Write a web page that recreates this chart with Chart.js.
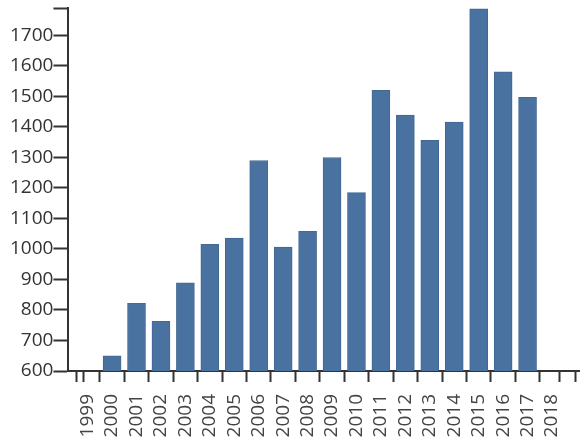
<!DOCTYPE html>
<html>
<head>
<meta charset="utf-8">
<script src="https://cdn.jsdelivr.net/npm/chart.js@4"></script>
<style>
  html, body { margin: 0; padding: 0; background: #fff; }
  #wrap { width: 583px; height: 446px; }
</style>
</head>
<body>
<div id="wrap"><canvas id="myChart"></canvas></div>
<script>
const years = [2000, 2001, 2002, 2003, 2004, 2005, 2006, 2007, 2008, 2009,
               2010, 2011, 2012, 2013, 2014, 2015, 2016, 2017];
const counts = [650, 822, 763, 889, 1015, 1036, 1290, 1006, 1058, 1300,
                1185, 1520, 1439, 1356, 1416, 1787, 1581, 1497];
const xTicks = [1999, 2000, 2001, 2002, 2003, 2004, 2005, 2006, 2007, 2008, 2009,
                2010, 2011, 2012, 2013, 2014, 2015, 2016, 2017, 2018];
const yTicks = [600, 700, 800, 900, 1000, 1100, 1200, 1300, 1400, 1500, 1600, 1700];

// axis extents (outer ends get a bare tick, no label)
const xMin = 1998.69, xMax = 2018.63;
const yMin = 600, yMax = 1790;

const axisColor = '#333';
const ctx = document.getElementById('myChart');
const myChart = new Chart(ctx, {
    type: 'bar',
    data: {
        datasets: [{
            data: years.map((y, i) => ({ x: y, y: counts[i] })),
            backgroundColor: '#4a72a0',
            borderColor: '#426894',
            borderWidth: 1,
            borderSkipped: 'bottom',
            barThickness: 18
        }]
    },
    options: {
        responsive: true,
        maintainAspectRatio: false,
        animation: false,
        layout: {
            padding: { left: 10, right: 4, top: 8, bottom: 0 }
        },
        plugins: {
            legend: { display: false },
            tooltip: { enabled: false }
        },
        scales: {
            x: {
                type: 'linear',
                min: xMin,
                max: xMax,
                afterBuildTicks: axis => {
                    axis.ticks = [xMin, ...xTicks, xMax].map(v => ({ value: v }));
                },
                afterFit: axis => {
                    axis.paddingLeft = 0;
                    axis.paddingRight = 0;
                    axis.height = 75;
                },
                grid: {
                    drawOnChartArea: false,
                    color: axisColor,
                    tickLength: 11,
                    tickWidth: 2
                },
                border: { color: axisColor, width: 2 },
                ticks: {
                    autoSkip: false,
                    minRotation: 90,
                    maxRotation: 90,
                    padding: 12,
                    color: '#444',
                    font: { family: 'Open Sans', size: 19 },
                    callback: v => xTicks.includes(v) ? String(v) : ''
                }
            },
            y: {
                min: yMin,
                max: yMax,
                afterBuildTicks: axis => {
                    axis.ticks = [...yTicks, yMax].map(v => ({ value: v }));
                },
                afterFit: axis => {
                    axis.paddingTop = 0;
                    axis.paddingBottom = 0;
                },
                grid: {
                    drawOnChartArea: false,
                    color: axisColor,
                    tickLength: 15,
                    tickWidth: 2
                },
                border: { color: axisColor, width: 2 },
                ticks: {
                    autoSkip: false,
                    padding: 0,
                    color: '#333',
                    font: { family: 'Open Sans', size: 19 },
                    callback: v => yTicks.includes(v) ? String(v) : ''
                }
            }
        }
    }
});
</script>
</body>
</html>
